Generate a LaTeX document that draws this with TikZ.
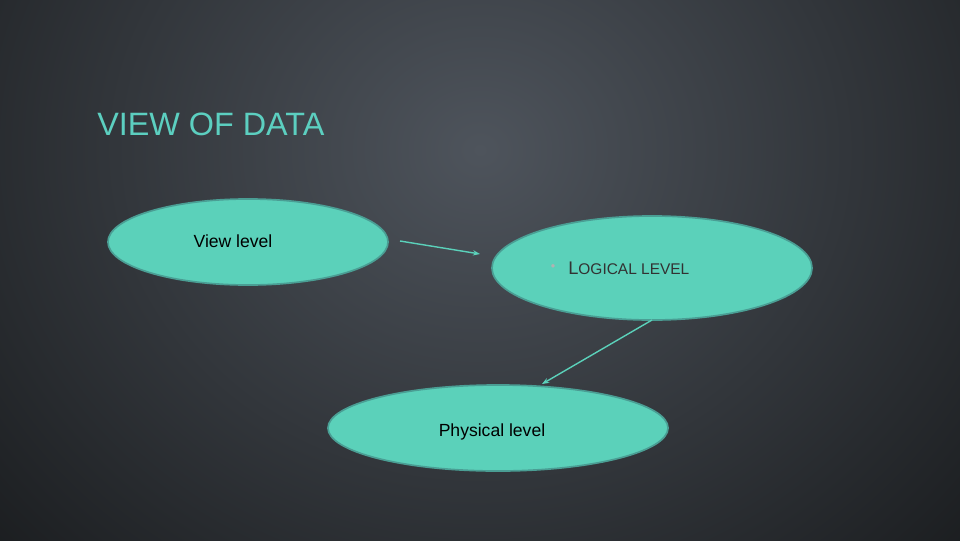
\documentclass[tikz,border=0pt]{standalone}
\usepackage{fontspec}
\setmainfont{Liberation Sans}
\usetikzlibrary{shapes.geometric,arrows.meta}
\definecolor{teal1}{HTML}{5BD1BA}
\definecolor{tealedge}{HTML}{4A9E94}
\definecolor{titlec}{HTML}{5CCFC0}
\tikzset{lvl/.style={ellipse,fill=teal1,draw=tealedge,line width=1.2pt},
conn/.style={draw=teal1,line width=1pt,-{Stealth[length=5pt]}}}
\begin{document}
\begin{tikzpicture}[x=0.025cm,y=-0.025cm]
\useasboundingbox (0,0) rectangle (960,540);
\clip (0,0) rectangle (960,540);
\shade[inner color={rgb,255:red,78;green,84;blue,92},outer color={rgb,255:red,22;green,24;blue,26}] (-250,-500) rectangle (1210,800);
\node[anchor=base west,text=titlec,font=\fontsize{23}{26}\selectfont,inner sep=0] (title) at (97,135) {VIEW OF DATA};
\node[lvl,minimum width=7cm,minimum height=2.15cm] (view) at (248,242) {};
\node[font=\fontsize{12.5}{14}\selectfont] (vt) at (233,241) {View level};
\node[lvl,minimum width=8cm,minimum height=2.6cm] (logic) at (652,268) {};
\node[anchor=west,font=\fontsize{13}{15}\selectfont,text={rgb,255:red,50;green,50;blue,50},inner sep=0] (lt) at (568,268) {L{\fontsize{11}{13}\selectfont OGICAL LEVEL}};
\node[text=gray!60,font=\small,inner sep=0] (bul) at (553,268) {•};
\node[lvl,minimum width=8.5cm,minimum height=2.15cm] (phys) at (498,428) {};
\node[font=\fontsize{12.5}{14}\selectfont] (pt) at (492,432) {Physical level};
\coordinate (a1) at (400,241); \coordinate (a2) at (480,254);
\coordinate (b1) at (652,320); \coordinate (b2) at (542,384);
\draw[conn] (a1) -- (a2);
\draw[conn] (b1) -- (b2);
\end{tikzpicture}
\end{document}
